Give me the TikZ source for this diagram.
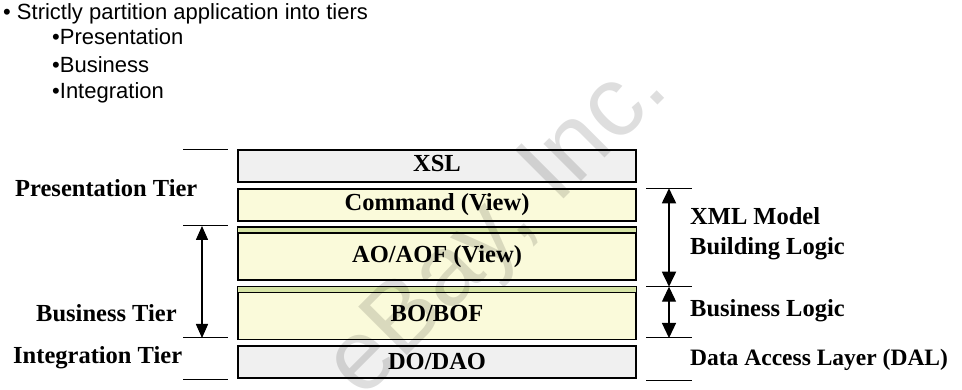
\documentclass[tikz,border=0pt]{standalone}
\usepackage{fontspec}
\setmainfont{Liberation Serif}
\newfontfamily\arialfont{Liberation Sans}
\usetikzlibrary{arrows.meta}

\definecolor{layergray}{RGB}{240,240,240}
\definecolor{layeryellow}{RGB}{250,250,218}
\definecolor{layergreen}{RGB}{214,228,166}

\begin{document}
\begin{tikzpicture}[x=1pt,y=-1pt,>={Triangle[length=14pt,width=12pt]},
        layerbox/.style={draw=black,line width=1.2pt,minimum width=398pt,
            inner sep=0pt,text height=16pt,text depth=4pt,
            font=\fontsize{24.5}{29}\selectfont\bfseries},
        tierlabel/.style={anchor=base west,inner sep=0pt,
            font=\fontsize{24.5}{29}\selectfont\bfseries},
        bulletline/.style={anchor=base west,inner sep=0pt,
            font=\arialfont\fontsize{22}{26}\selectfont},
        guide/.style={line width=1pt}]
        \useasboundingbox (0,0) rectangle (962,390);
        \def\boxX{437}
        \def\leftA{183}
        \def\leftB{228}
        \def\rightA{646}
        \def\rightB{692}

        % Bullet list at the top.
        \node[bulletline] (intro) at (3,20)
            {\textbullet\ Strictly partition application into tiers};
        \node[bulletline] (itemP) at (52,45) {\textbullet Presentation};
        \node[bulletline] (itemB) at (52,72.5) {\textbullet Business};
        \node[bulletline] (itemI) at (52,99) {\textbullet Integration};

        % Stack of layers.
        \node[layerbox,fill=layergray,minimum height=32pt]
            (xsl) at (\boxX,166) {XSL};
        \node[layerbox,fill=layeryellow,minimum height=32pt]
            (cmd) at (\boxX,205) {Command (View)};
        \node[layerbox,fill=layeryellow,minimum height=46.7pt]
            (ao) at (\boxX,256.7) {AO/AOF (View)};
        \draw[line width=1.2pt,fill=layergreen]
            (ao.north west) rectangle ([yshift=5.8pt]ao.north east);
        \node[layerbox,fill=layeryellow,minimum height=46.3pt]
            (bo) at (\boxX,316) {BO/BOF};
        \draw[line width=1.2pt,fill=layergreen]
            (bo.north west) rectangle ([yshift=6pt]bo.north east);
        \node[layerbox,fill=layergray,minimum height=32pt,text depth=0pt]
            (do) at (\boxX,362) {DO/DAO};

        % Tier boundaries on the left.
        \draw[guide] (\leftA,149.5) -- (\leftB,149.5);
        \draw[guide] (\leftA,226) -- (\leftB,226);
        \draw[guide] (\leftA,338) -- (\leftB,338);
        \draw[guide] (\leftA,379) -- (\leftB,379);
        \coordinate (busTop) at (202,226);
        \coordinate (busBot) at (202,338);
        \draw[<->,line width=1.5pt] (busTop) -- (busBot);

        \node[tierlabel] (presTier) at (15,196.5) {Presentation Tier};
        \node[tierlabel] (busTier) at (36,321.5) {Business Tier};
        \node[tierlabel] (intTier) at (13,363) {Integration Tier};

        % Logic boundaries on the right.
        \draw[guide] (\rightA,188.3) -- (\rightB,188.3);
        \draw[guide] (\rightA,286.7) -- (\rightB,286.7);
        \draw[guide] (\rightA,338) -- (\rightB,338);
        \draw[guide] (\rightA,380) -- (\rightB,380);
        \coordinate (xmlTop) at (669,188.3);
        \coordinate (xmlBot) at (669,286.7);
        \coordinate (logicBot) at (669,338);
        \draw[{Triangle[length=15pt,width=14pt]}-{Triangle[length=15pt,width=14pt]},
            line width=1.8pt] (xmlTop) -- (xmlBot);
        \draw[{Triangle[length=15pt,width=14pt]}-{Triangle[length=15pt,width=14pt]},
            line width=1.2pt] (xmlBot) -- (logicBot);

        \node[tierlabel] (xmlA) at (690,225) {XML Model};
        \node[tierlabel] (xmlB) at (690,255) {Building Logic};
        \node[tierlabel] (bizLogic) at (690,316.5) {Business Logic};
        \node[tierlabel,font=\fontsize{23.5}{28}\selectfont\bfseries]
            (dal) at (690,365) {Data Access Layer (DAL)};

        % Watermark, see-through so the black text stays black.
        \node[anchor=base west,inner sep=0pt,rotate=45,text=black,
            text opacity=0.13,font=\arialfont\fontsize{100}{100}\selectfont]
            (mark) at (362,401) {eBay, Inc.};
    \end{tikzpicture}
\end{document}
